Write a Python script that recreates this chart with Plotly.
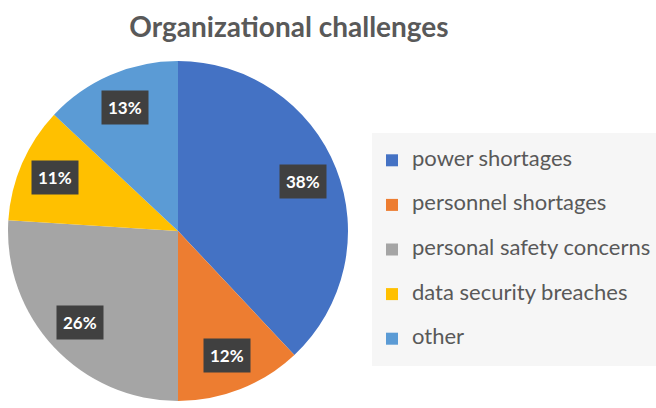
import math
import plotly.graph_objects as go

categories = ["power shortages", "personnel shortages", "personal safety concerns",
              "data security breaches", "other"]
values = [38, 12, 26, 11, 13]
colors = ["#4472C4", "#ED7D31", "#A5A5A5", "#FFC000", "#5B9BD5"]
title = "Organizational challenges"

W, H = 656, 408
CX, CY, R = 178, 231, 170  # pie centre / radius in px

fig = go.Figure()
fig.add_trace(go.Pie(
    labels=['<span style="font-size:22px;baseline-shift:7px">%s</span>' % c for c in categories],
    values=values,
    marker=dict(colors=colors, line=dict(width=0)),
    sort=False, direction="clockwise", rotation=0,
    textinfo="none", hoverinfo="percent",
    domain=dict(x=[(CX - R) / W, (CX + R) / W], y=[1 - (CY + R) / H, 1 - (CY - R) / H]),
))

total = sum(values)
cum = 0
for v in values:
    mid = (cum + v / 2) / total * 2 * math.pi
    cum += v
    rr = 0.79 * R
    x = (CX + rr * math.sin(mid)) / W
    y = 1 - (CY - rr * math.cos(mid)) / H
    fig.add_annotation(
        x=x, y=y, xref="paper", yref="paper", showarrow=False,
        xanchor="center", yanchor="middle",
        text="<b>%d%%</b>" % round(v / total * 100),
        font=dict(family="Lato", size=17, color="white"),
        bgcolor="#404040", borderpad=6,
    )

fig.update_layout(
    width=W, height=H,
    margin=dict(l=0, r=0, t=0, b=0),
    paper_bgcolor="white",
    title=dict(text="<b>%s</b>" % title, x=289 / W, xanchor="center",
               y=1 - 27 / H, yanchor="middle",
               font=dict(family="Lato", size=28, color="#595959")),
    legend=dict(x=372 / W, xanchor="left", y=1 - 133 / H, yanchor="top",
                bgcolor="#F6F6F6", font=dict(family="Lato", size=32, color="#595959"),
                itemwidth=30, tracegroupgap=0),
    showlegend=True,
)
fig.write_html("out.html", post_script="document.body.style.margin='0';",
               config={"displayModeBar": False})
